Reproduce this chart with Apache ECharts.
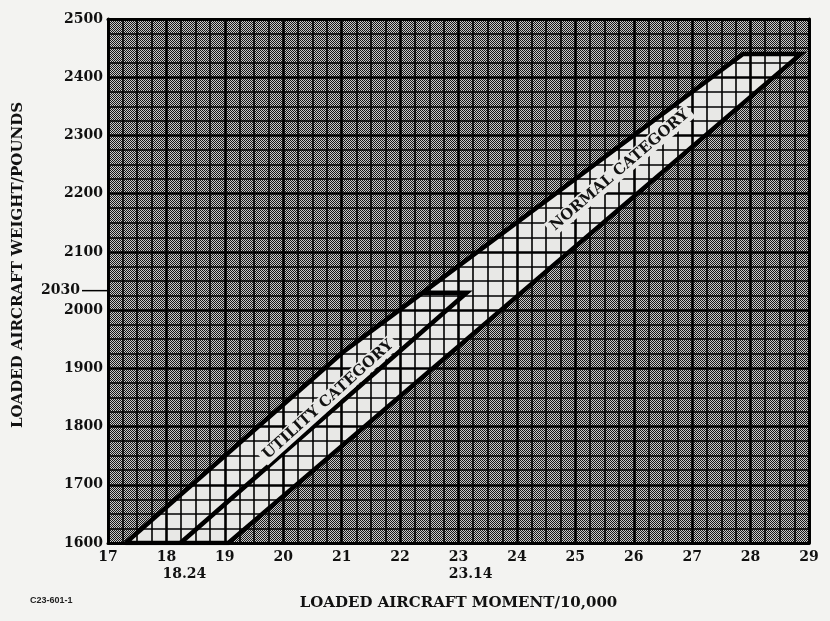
<!DOCTYPE html>
<html>
<head>
<meta charset="utf-8">
<script src="https://cdn.jsdelivr.net/npm/echarts@6/dist/echarts.min.js"></script>
<style>
  html, body { margin: 0; background: #f3f3f1; }
  #chart { width: 830px; height: 621px; }
</style>
</head>
<body>
<div id="chart"></div>
<script>
  // axis ticks
  const momentTicks = [17, 18, 19, 20, 21, 22, 23, 24, 25, 26, 27, 28, 29];
  const weightTicks = [1600, 1700, 1800, 1900, 2000, 2100, 2200, 2300, 2400, 2500];

  // normal category envelope (moment/10,000, pounds)
  const normalMoment = [17.3, 21.05, 27.87, 28.86, 19.06, 17.3];
  const normalWeight = [1600, 1930, 2440, 2440, 1600, 1600];

  // utility category boundary inside it
  const utilityMoment = [22.39, 23.14, 18.24];
  const utilityWeight = [2030, 2030, 1600];

  // extra marked values under / beside the axes
  const markMoments = [18.24, 23.14];
  const markWeights = [2030];

  const serif = 'DejaVu Serif';
  const ink = '#111';
  const clear = '#e8e8e6';

  // halftone screen used outside the envelope
  const dots = document.createElement('canvas');
  dots.width = 2;
  dots.height = 2;
  const g = dots.getContext('2d');
  g.fillStyle = '#c8c8c8';
  g.fillRect(0, 0, 2, 2);
  g.fillStyle = '#181818';
  g.fillRect(0, 0, 1, 1);
  g.fillRect(1, 1, 1, 1);
  const stipple = { image: dots, repeat: 'repeat' };

  const xMin = momentTicks[0];
  const xMax = momentTicks[momentTicks.length - 1];
  const yMin = weightTicks[0];
  const yMax = weightTicks[weightTicks.length - 1];

  const gridLines = {
    splitLine: { show: true, lineStyle: { color: '#000', width: 2.6 } },
    minorTick: { show: false, splitNumber: 4 },
    minorSplitLine: { show: true, lineStyle: { color: '#000', width: 1.6 } },
  };
  const tickFont = { color: ink, fontFamily: serif, fontWeight: 'bold', fontSize: 14 };
  const frame = { show: true, lineStyle: { color: '#000', width: 3 } };

  const chart = echarts.init(document.getElementById('chart'));

  const option = {
    animation: false,
    backgroundColor: '#f3f3f1',
    grid: { left: 108, right: 21, top: 19, bottom: 78 },
    xAxis: [
      {
        type: 'value',
        min: xMin,
        max: xMax,
        interval: 1,
        z: 3,
        axisLine: frame,
        axisTick: { show: false },
        axisLabel: { ...tickFont, margin: 7, formatter: (v) => (momentTicks.includes(v) ? String(v) : '') },
        name: 'LOADED AIRCRAFT MOMENT/10,000',
        nameLocation: 'middle',
        nameGap: 53,
        nameTextStyle: { color: ink, fontFamily: serif, fontWeight: 'bold', fontSize: 15 },
        ...gridLines,
      },
      {
        type: 'value',
        position: 'top',
        min: xMin,
        max: xMax,
        z: 3,
        axisLine: frame,
        axisTick: { show: false },
        axisLabel: { show: false },
        splitLine: { show: false },
      },
    ],
    yAxis: [
      {
        type: 'value',
        min: yMin,
        max: yMax,
        interval: 100,
        z: 3,
        axisLine: frame,
        axisTick: { show: false },
        axisLabel: { ...tickFont, margin: 5, formatter: (v) => (weightTicks.includes(v) ? String(v) : '') },
        ...gridLines,
      },
      {
        type: 'value',
        position: 'right',
        min: yMin,
        max: yMax,
        z: 3,
        axisLine: frame,
        axisTick: { show: false },
        axisLabel: { show: false },
        splitLine: { show: false },
      },
    ],
    series: [
      {
        // screened plot area
        type: 'custom',
        z: 1,
        silent: true,
        data: [[xMin, yMax, xMax, yMin]],
        renderItem(params, api) {
          const a = api.coord([api.value(0), api.value(1)]);
          const b = api.coord([api.value(2), api.value(3)]);
          return {
            type: 'rect',
            shape: { x: a[0], y: a[1], width: b[0] - a[0], height: b[1] - a[1] },
            style: { fill: stipple },
          };
        },
      },
      {
        // clear envelope
        type: 'custom',
        z: 1,
        silent: true,
        data: [[normalMoment[0], normalWeight[0]]],
        renderItem(params, api) {
          const points = normalMoment.map((m, i) => api.coord([m, normalWeight[i]]));
          return { type: 'polygon', shape: { points }, style: { fill: clear } };
        },
      },
      {
        name: 'NORMAL CATEGORY',
        type: 'line',
        z: 5,
        symbol: 'none',
        data: normalMoment.map((m, i) => [m, normalWeight[i]]),
        lineStyle: { color: '#000', width: 4.5, join: 'miter' },
      },
      {
        name: 'UTILITY CATEGORY',
        type: 'line',
        z: 5,
        symbol: 'none',
        data: utilityMoment.map((m, i) => [m, utilityWeight[i]]),
        lineStyle: { color: '#000', width: 4.5, join: 'miter' },
      },
    ],
  };

  chart.setOption(option);

  const px = (m, w) => chart.convertToPixel({ xAxisIndex: 0, yAxisIndex: 0 }, [m, w]);
  const bold = (size) => `bold ${size}px "${serif}"`;

  const graphics = [];
  markMoments.forEach((m) => {
    const p = px(m, yMin);
    graphics.push({
      type: 'text', x: p[0] + 4, y: p[1] + 31, z: 10,
      style: { text: String(m), font: bold(14), fill: ink, textAlign: 'center', textVerticalAlign: 'middle' },
    });
  });
  markWeights.forEach((w) => {
    const p = px(xMin, w);
    graphics.push({
      type: 'line', z: 10,
      shape: { x1: p[0] - 26, y1: p[1] - 2, x2: p[0], y2: p[1] - 2 },
      style: { stroke: '#000', lineWidth: 1.5 },
    });
    graphics.push({
      type: 'text', x: p[0] - 28, y: p[1] - 2, z: 10,
      style: { text: String(w), font: bold(14), fill: ink, textAlign: 'right', textVerticalAlign: 'middle' },
    });
  });

  const uc = px(20.77, 1846);
  const nc = px(25.76, 2240);
  const bandLabel = {
    font: bold(15), fill: ink, textAlign: 'center', textVerticalAlign: 'middle',
    backgroundColor: clear, padding: [1, 4],
  };
  graphics.push(
    {
      type: 'text', x: uc[0], y: uc[1], z: 10, rotation: (42 * Math.PI) / 180,
      style: { ...bandLabel, text: 'UTILITY CATEGORY' },
    },
    {
      type: 'text', x: nc[0], y: nc[1], z: 10, rotation: (40.5 * Math.PI) / 180,
      style: { ...bandLabel, text: 'NORMAL CATEGORY' },
    },
    {
      type: 'text', x: 18, y: 265, z: 10, rotation: Math.PI / 2,
      style: { text: 'LOADED AIRCRAFT WEIGHT/POUNDS', font: bold(15), fill: ink, textAlign: 'center', textVerticalAlign: 'middle' },
    },
    {
      type: 'text', x: 30, y: 601, z: 10,
      style: { text: 'C23-601-1', font: 'bold 9px "Liberation Sans"', fill: '#222', textAlign: 'left', textVerticalAlign: 'middle' },
    }
  );

  chart.setOption({ graphic: graphics });
</script>
</body>
</html>
